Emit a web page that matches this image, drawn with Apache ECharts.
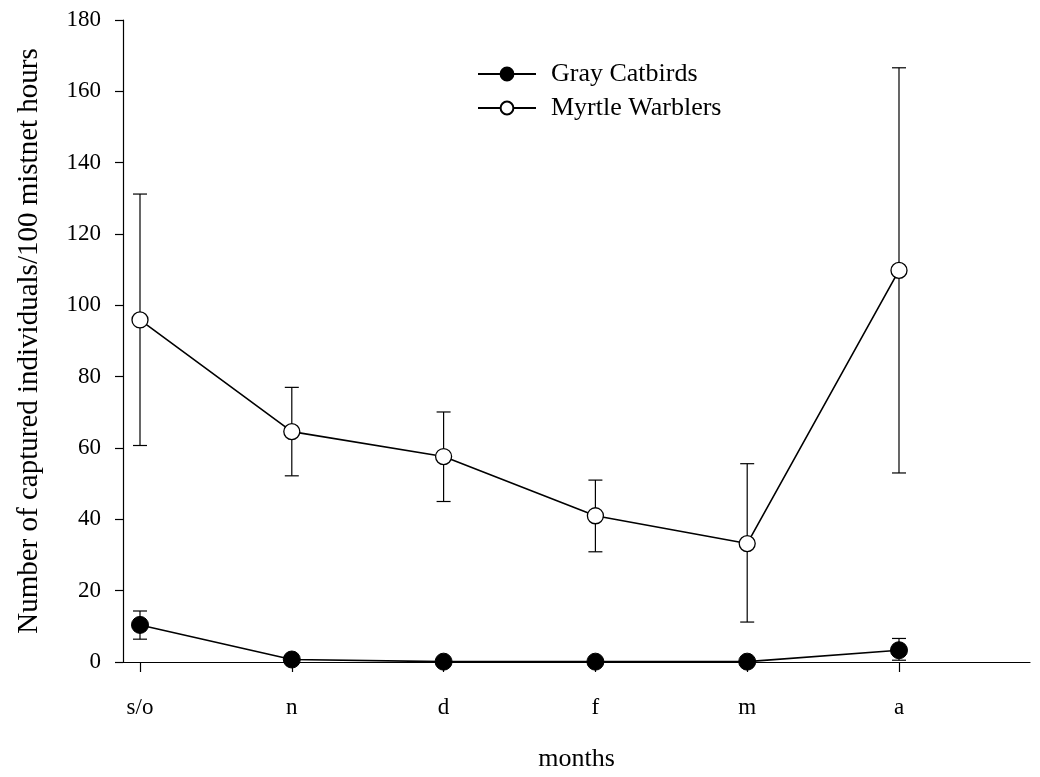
<!DOCTYPE html>
<html>
<head>
<meta charset="utf-8">
<script src="https://cdn.jsdelivr.net/npm/echarts@6/dist/echarts.min.js"></script>
<style>
html,body{margin:0;padding:0;background:#fff;}
#chart{width:1040px;height:777px;}
</style>
</head>
<body>
<div id="chart"></div>
<script>
const months = ['s/o', 'n', 'd', 'f', 'm', 'a'];
const yTicks = [0, 20, 40, 60, 80, 100, 120, 140, 160, 180];
const catbirdMean = [10.4, 0.7, 0.1, 0.1, 0.1, 3.3];
const catbirdLow  = [6.4, 0.7, 0.1, 0.1, 0.1, 0.5];
const catbirdHigh = [14.3, 0.7, 0.1, 0.1, 0.1, 6.6];
const warblerMean = [95.9, 64.6, 57.6, 41.0, 33.2, 109.8];
const warblerLow  = [60.7, 52.2, 45.0, 30.9, 11.2, 53.0];
const warblerHigh = [131.2, 77.0, 70.1, 51.0, 55.6, 166.6];

const FONT = "'Liberation Serif', 'Times New Roman', serif";
const idx = months.map((m, i) => i);

function pts(vals) { return vals.map((v, i) => [i, v]); }
function errs(lo, hi) { return lo.map((l, i) => [i, l, hi[i]]); }

function errRender(params, api) {
  const x = api.value(0);
  const lo = api.coord([x, api.value(1)]);
  const hi = api.coord([x, api.value(2)]);
  const cap = 7;
  const style = { stroke: '#000', lineWidth: 1.2 };
  return {
    type: 'group',
    children: [
      { type: 'line', shape: { x1: lo[0], y1: lo[1], x2: hi[0], y2: hi[1] }, style },
      { type: 'line', shape: { x1: hi[0] - cap, y1: hi[1], x2: hi[0] + cap, y2: hi[1] }, style },
      { type: 'line', shape: { x1: lo[0] - cap, y1: lo[1], x2: lo[0] + cap, y2: lo[1] }, style }
    ]
  };
}

const chart = echarts.init(document.getElementById('chart'), null, { renderer: 'canvas' });
chart.setOption({
  animation: false,
  backgroundColor: '#fff',
  textStyle: { fontFamily: FONT, color: '#000' },
  grid: { left: 123, top: 20, right: 10, bottom: 109, containLabel: false },
  legend: {
    orient: 'vertical',
    left: 477,
    top: 61,
    padding: 0,
    itemWidth: 58,
    itemHeight: 16,
    itemGap: 8,
    textStyle: { fontFamily: FONT, fontSize: 26, color: '#000', padding: [0, 0, 0, 10] },
    data: ['Gray Catbirds', 'Myrtle Warblers']
  },
  xAxis: {
    type: 'value',
    min: -0.112,
    max: 5.863,
    name: 'months',
    nameLocation: 'middle',
    nameGap: 84,
    nameTextStyle: { fontFamily: FONT, fontSize: 26, color: '#000' },
    axisLine: { show: true, onZero: false, lineStyle: { color: '#000', width: 1.2 } },
    axisTick: { show: true, customValues: idx, length: 10, lineStyle: { color: '#000', width: 1.2 } },
    axisLabel: {
      customValues: idx,
      formatter: v => months[Math.round(v)],
      margin: 34,
      fontFamily: FONT, fontSize: 23, color: '#000'
    },
    splitLine: { show: false }
  },
  yAxis: {
    type: 'value',
    min: yTicks[0],
    max: yTicks[yTicks.length - 1],
    interval: 20,
    name: 'Number of captured individuals/100 mistnet hours',
    nameLocation: 'middle',
    nameGap: 79,
    nameTextStyle: { fontFamily: FONT, fontSize: 29, color: '#000' },
    axisLine: { show: true, onZero: false, lineStyle: { color: '#000', width: 1.2 } },
    axisTick: { show: true, inside: false, length: 8, lineStyle: { color: '#000', width: 1.2 } },
    axisLabel: { margin: 22, fontFamily: FONT, fontSize: 23, color: '#000' },
    splitLine: { show: false }
  },
  series: [
    {
      name: 'Gray Catbirds err',
      type: 'custom',
      renderItem: errRender,
      data: errs(catbirdLow, catbirdHigh),
      z: 1,
      silent: true
    },
    {
      name: 'Myrtle Warblers err',
      type: 'custom',
      renderItem: errRender,
      data: errs(warblerLow, warblerHigh),
      z: 1,
      silent: true
    },
    {
      name: 'Gray Catbirds',
      type: 'line',
      data: pts(catbirdMean),
      symbol: 'circle',
      symbolSize: 17,
      lineStyle: { color: '#000', width: 1.6 },
      itemStyle: { color: '#000', borderColor: '#000', borderWidth: 1 },
      z: 3
    },
    {
      name: 'Myrtle Warblers',
      type: 'line',
      data: pts(warblerMean),
      symbol: 'circle',
      symbolSize: 16,
      lineStyle: { color: '#000', width: 1.6 },
      itemStyle: { color: '#fff', borderColor: '#000', borderWidth: 1.3 },
      z: 3
    }
  ]
});
</script>
</body>
</html>
